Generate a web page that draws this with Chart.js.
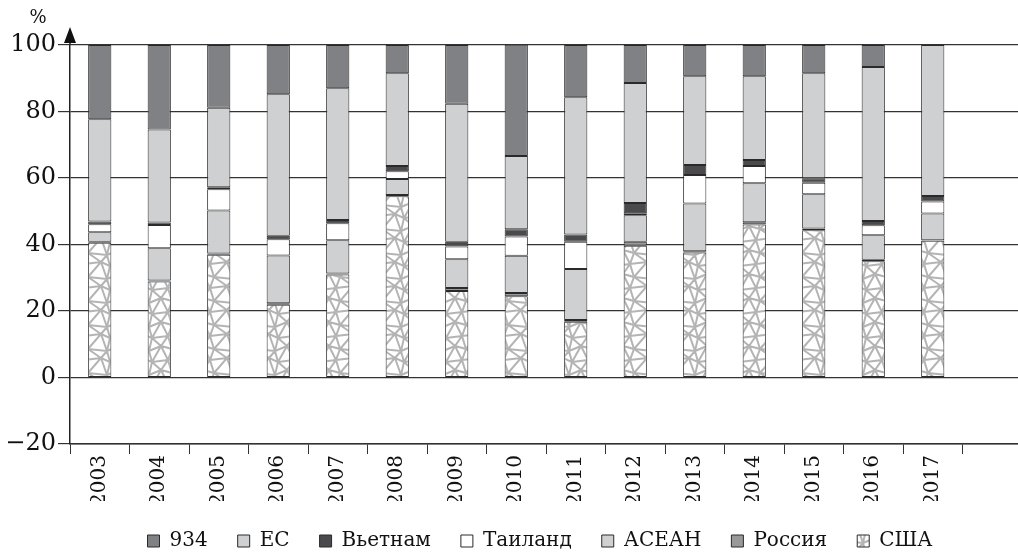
<!DOCTYPE html>
<html>
<head>
<meta charset="utf-8">
<script src="https://cdn.jsdelivr.net/npm/chart.js@4/dist/chart.umd.min.js"></script>
<style>
  html, body { margin: 0; padding: 0; background: #fff; overflow: hidden; }
  #wrap { width: 1024px; height: 553px; }
</style>
</head>
<body>
<div id="wrap"><canvas id="chart" width="1024" height="553"></canvas></div>
<script>
// years on the x axis (last slot is empty in the original)
var years = ['2003', '2004', '2005', '2006', '2007', '2008', '2009', '2010',
             '2011', '2012', '2013', '2014', '2015', '2016', '2017', ''];

// shares, %, bottom of the stack first
var usa      = [40.5, 28.9, 36.9, 21.9, 31.0, 54.5, 26.0, 24.4, 16.8, 39.6, 37.6, 46.0, 44.3, 35.0, 41.1];
var russia   = [0.3, 0.3, 0.4, 0.4, 0.3, 0.4, 0.9, 1.0, 0.5, 1.2, 0.4, 0.7, 0.5, 0.4, 0.2];
var asean    = [2.9, 9.7, 12.9, 14.4, 10.0, 4.8, 8.7, 11.2, 15.3, 8.0, 14.3, 11.7, 10.3, 7.4, 8.0];
var thailand = [2.4, 7.0, 6.4, 4.9, 5.1, 2.3, 3.8, 5.8, 8.2, 0.6, 8.6, 5.2, 3.5, 3.0, 3.6];
var vietnam  = [0.8, 0.7, 0.6, 1.0, 1.0, 1.6, 1.4, 2.2, 2.2, 3.1, 3.0, 1.8, 1.3, 1.3, 1.7];
var eu       = [30.8, 28.0, 23.9, 42.6, 39.6, 27.9, 41.5, 22.0, 41.3, 36.1, 26.7, 25.2, 31.6, 46.3, 45.4];
var other    = [22.3, 25.4, 18.9, 14.8, 13.0, 8.5, 17.7, 33.5, 15.7, 11.4, 9.4, 9.4, 8.5, 6.6, 0];

var yTicks = [-20, 0, 20, 40, 60, 80, 100];

var serif = '"DejaVu Serif", "Liberation Serif", serif';

// grey triangle mesh used for the USA segments
function makeMesh() {
    var c = document.createElement('canvas');
    c.width = 42; c.height = 24;
    var g = c.getContext('2d');
    g.fillStyle = '#fff';
    g.fillRect(0, 0, 42, 24);
    g.strokeStyle = '#b4b4b4';
    g.lineWidth = 2;
    var jit = [[[0, 0], [3, -2], [-2, 2]], [[-3, 1], [2, 3], [0, -2]]];
    var pt = function (r, col) {
        var rr = ((r % 2) + 2) % 2, cc = ((col % 3) + 3) % 3;
        var j = jit[rr][cc];
        return [col * 14 + rr * 7 + j[0], r * 12 + j[1]];
    };
    g.beginPath();
    for (var r = -1; r <= 2; r++) {
        for (var col = -1; col <= 3; col++) {
            var p = pt(r, col);
            var odd = ((r % 2) + 2) % 2;
            var nbs = [pt(r, col + 1), pt(r + 1, col), pt(r + 1, odd ? col + 1 : col - 1)];
            nbs.forEach(function (q) {
                g.moveTo(p[0], p[1]);
                g.lineTo(q[0], q[1]);
            });
        }
    }
    g.stroke();
    return g.createPattern(c, 'repeat');
}

var axisExtras = {
    id: 'axisExtras',
    afterLayout: function (chart) {
        // the legend of the original sits a bit right of centre
        chart.legend.left += 29;
        chart.legend.right += 29;
    },
    afterDraw: function (chart) {
        var ctx = chart.ctx;
        var x = chart.scales.y.right;
        var top = chart.chartArea.top;
        ctx.save();
        ctx.strokeStyle = '#222';
        ctx.lineWidth = 1.5;
        ctx.beginPath();
        ctx.moveTo(x, top);
        ctx.lineTo(x, top - 6);
        ctx.stroke();
        ctx.fillStyle = '#111';
        ctx.beginPath();
        ctx.moveTo(x, top - 18);
        ctx.lineTo(x - 6, top - 2);
        ctx.lineTo(x + 6, top - 2);
        ctx.closePath();
        ctx.fill();
        ctx.font = '18px ' + serif;
        ctx.textAlign = 'center';
        ctx.textBaseline = 'middle';
        ctx.fillText('%', x - 32, top - 27);
        ctx.restore();
    }
};

var border = '#2a2a2a';
function ds(label, data, color) {
    return {
        label: label,
        data: data,
        backgroundColor: color,
        borderColor: border,
        borderWidth: 1,
        borderSkipped: false
    };
}

var chart = new Chart(document.getElementById('chart').getContext('2d'), {
    type: 'bar',
    data: {
        labels: years,
        datasets: [
            ds('США', usa, makeMesh()),
            ds('Россия', russia, '#98999b'),
            ds('АСЕАН', asean, '#cfd0d2'),
            ds('Таиланд', thailand, '#ffffff'),
            ds('Вьетнам', vietnam, '#4a4a4c'),
            ds('ЕС', eu, '#cfd0d2'),
            ds('934', other, '#808184')
        ]
    },
    options: {
        responsive: false,
        animation: false,
        devicePixelRatio: 1,
        layout: { padding: { left: 0, right: 2, top: 45, bottom: -8 } },
        datasets: { bar: { barPercentage: 0.39, categoryPercentage: 1 } },
        scales: {
            x: {
                stacked: true,
                grid: {
                    display: true, drawOnChartArea: false, drawTicks: true,
                    tickLength: 10, color: '#333', tickColor: '#333', offset: true
                },
                border: { display: true, color: '#333', width: 1.5 },
                ticks: {
                    minRotation: 90, maxRotation: 90, padding: 1,
                    color: '#111', font: { family: serif, size: 20 }
                },
                afterFit: function (s) { s.height = 57; }
            },
            y: {
                stacked: true,
                min: -20, max: 100,
                afterBuildTicks: function (s) {
                    s.ticks = yTicks.map(function (v) { return { value: v }; });
                },
                grid: { color: '#333', lineWidth: 1.2, tickLength: 12, tickColor: '#333' },
                border: { display: true, color: '#222', width: 1.5 },
                ticks: {
                    padding: 2, color: '#111',
                    font: { family: serif, size: 24 },
                    callback: function (v) { return String(v).replace('-', '\u2212'); }
                },
                afterFit: function (s) { s.width = 70; }
            }
        },
        plugins: {
            tooltip: { enabled: false },
            legend: {
                position: 'bottom',
                reverse: true,
                labels: {
                    boxWidth: 12, boxHeight: 12, padding: 30,
                    color: '#111', font: { family: serif, size: 20 }
                }
            }
        }
    },
    plugins: [axisExtras]
});
</script>
</body>
</html>
